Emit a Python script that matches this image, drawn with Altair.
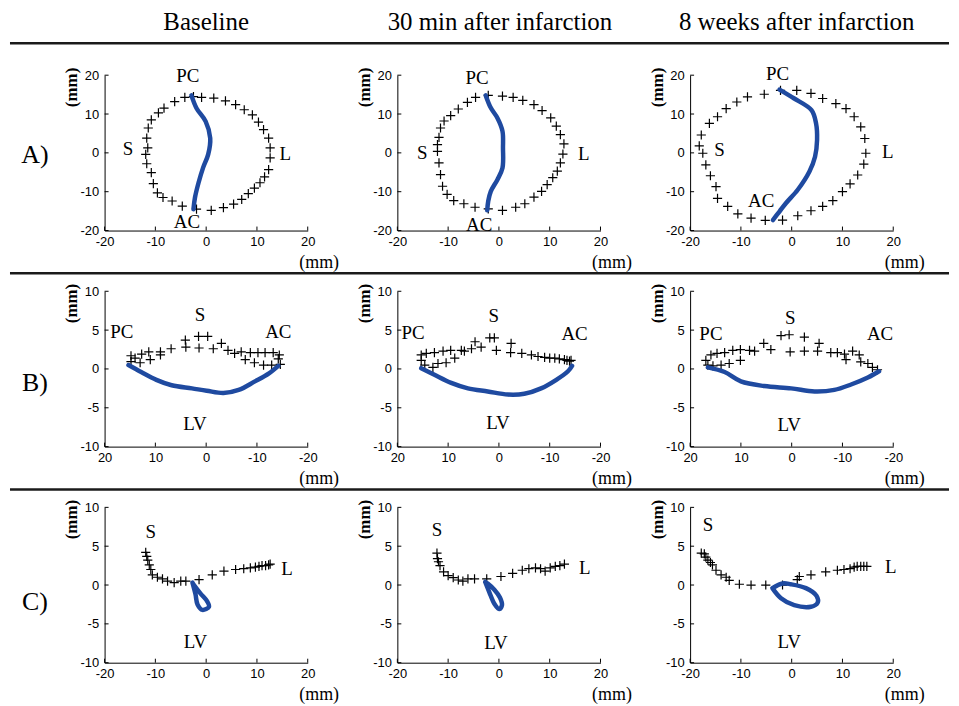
import altair as alt
import pandas as pd

HEADERS = ["Baseline", "30 min after infarction", "8 weeks after infarction"]
ROW_LABELS = ["A)", "B)", "C)"]

# ---------- Row A : annulus seen from the atrium ----------
A1_PX = [-4.2, -2.5, -0.9, 1.5, 3.8, 5.8, 7.5, 9.1, 10.3, 11.3, 12.3, 12.6, 12.6, 12.3, 11.5, 10.6, 9.5, 8.3, 7.0,
         5.4, 3.4, 1.0, -1.9, -4.7, -6.7, -8.5, -9.6, -10.4, -10.8, -11.7, -11.9, -11.5, -11.7, -11.4, -10.8, -9.4, -8.3, -6.2]
A1_PY = [14.3, 14.5, 14.3, 14.1, 13.4, 12.4, 11.1, 9.8, 7.9, 6.0, 3.8, 1.3, -1.3, -4.3, -6.2, -7.7, -9.1, -10.5, -12.0,
         -13.2, -14.1, -14.8, -14.5, -13.7, -12.4, -11.5, -10.3, -7.9, -5.1, -2.8, -0.4, 1.3, 3.8, 6.4, 8.5, 10.3, 11.5, 13.2]
A1_CX = [-2.9, -1.9, -0.1, 0.8, 0.4, -0.6, -1.5, -2.2, -2.5]
A1_CY = [14.8, 11.5, 8.1, 3.8, -0.4, -3.8, -7.7, -11.5, -14.5]
A1_LAB = ["PC", "AC", "S", "L"]
A1_LX = [-3.6, -3.8, -15.4, 15.6]
A1_LY = [19.7, -17.9, 0.9, -0.3]

A2_PX = [-4.6, -2.1, 0.7, 2.8, 4.7, 6.9, 8.5, 10.2, 11.3, 12.1, 12.8, 12.6, 12.1, 11.5, 10.6, 9.5, 8.4, 6.9, 5.1,
         3.3, 0.7, -2.1, -4.7, -6.9, -8.9, -10.2, -11.1, -11.5, -11.8, -12.1, -12.1, -11.8, -11.5, -10.8, -9.5, -8.0, -6.2]
A2_PY = [14.3, 14.8, 14.6, 14.3, 13.5, 12.4, 10.9, 9.0, 6.9, 4.7, 2.3, -0.3, -2.6, -4.7, -6.4, -8.2, -9.9, -11.4, -13.1,
         -14.0, -14.8, -14.4, -14.0, -13.1, -12.3, -10.7, -8.6, -5.6, -2.6, 0.4, 2.1, 4.0, 6.4, 8.2, 9.6, 11.3, 13.0]
A2_CX = [-2.6, -1.6, -0.3, 0.7, 0.8, 0.7, -0.3, -1.6, -2.1, -2.3]
A2_CY = [14.8, 11.6, 9.0, 5.6, 1.3, -3.9, -6.9, -9.9, -12.4, -14.8]
A2_LAB = ["PC", "AC", "S", "L"]
A2_LX = [-4.3, -3.9, -15.1, 16.7]
A2_LY = [19.3, -18.5, 0.0, -0.3]

A3_PX = [-5.4, -2.2, 1.0, 3.8, 6.1, 8.7, 10.7, 12.3, 13.6, 14.4, 14.6, 14.2, 13.0, 11.5, 10.0, 8.1, 6.1, 3.8, 1.2,
         -1.8, -5.2, -8.0, -10.6, -12.6, -14.6, -14.9, -16.0, -16.9, -17.5, -18.2, -17.8, -16.2, -14.6, -12.9, -10.8, -8.7]
A3_PY = [15.1, 16.1, 16.1, 15.3, 14.0, 12.7, 11.4, 9.3, 6.7, 3.7, -0.1, -2.9, -5.7, -8.0, -10.0, -12.3, -13.8, -14.9, -16.2,
         -17.3, -17.4, -16.8, -15.7, -13.8, -11.7, -8.7, -5.9, -3.1, -0.1, 1.8, 4.6, 7.6, 9.3, 11.4, 13.1, 14.4]
A3_CX = [-2.4, 0.5, 3.9, 4.8, 5.0, 4.6, 3.5, 1.2, -1.1, -2.4, -3.7]
A3_CY = [16.3, 14.0, 11.0, 7.6, 3.3, -1.0, -4.8, -9.5, -12.9, -15.1, -17.3]
A3_LAB = ["PC", "AC", "S", "L"]
A3_LX = [-2.8, -6.0, -14.2, 18.9]
A3_LY = [20.4, -12.3, 0.7, 0.3]

# ---------- Row B : side view (PC - AC) ----------
B1_PX = [14.8, 14.8, 14.0, 13.0, 12.7, 11.0, 11.3, 9.0, 9.0, 6.9, 4.1, 4.0, 1.5, -0.3, 1.4, -1.4, -3.0, -4.3, -5.6,
         -6.9, -7.7, -8.7, -9.5, -10.2, -11.3, -11.6, -12.9, -13.2, -14.2, -14.4, -14.6]
B1_PY = [1.7, 0.95, 1.4, 0.8, 1.9, 1.2, 2.2, 1.8, 2.2, 2.6, 3.7, 2.8, 4.2, 4.2, 2.7, 2.6, 3.3, 2.4, 2.0,
         2.2, 1.2, 2.1, 0.8, 2.1, 0.5, 2.1, 0.5, 2.1, 1.3, 1.8, 0.6]
B1_CX = [15.3, 12.8, 9.8, 6.8, 2.8, -0.1, -3.4, -6.4, -9.6, -12.3, -14.2]
B1_CY = [0.5, -0.4, -1.4, -2.1, -2.5, -2.8, -3.1, -2.7, -1.6, -0.6, 0.4]
B1_LAB = ["PC", "S", "AC", "LV"]
B1_LX = [16.6, 1.2, -14.2, 2.2]
B1_LY = [4.7, 6.9, 4.7, -7.1]

B2_PX = [15.3, 15.3, 14.6, 14.3, 13.0, 12.7, 12.0, 11.0, 10.4, 9.5, 8.7, 7.4, 6.8, 5.4, 4.7, 3.5, 1.8, 0.9, 0.5,
         -2.4, -2.3, -4.5, -6.4, -7.7, -9.0, -10.0, -11.0, -11.9, -12.9, -13.4, -13.9, -14.2]
B2_PY = [1.8, 1.1, 0.5, 2.0, 0.2, 2.1, 0.7, 2.3, 0.8, 2.4, 1.4, 2.4, 2.3, 2.6, 3.5, 2.8, 4.0, 4.0, 2.4,
         3.3, 2.1, 2.0, 1.8, 1.6, 1.5, 1.4, 1.4, 1.3, 1.2, 1.1, 1.0, 1.1]
B2_CX = [15.3, 12.7, 9.4, 6.1, 2.2, -1.8, -5.0, -8.3, -11.3, -13.6, -14.4]
B2_CY = [0.1, -0.75, -1.8, -2.5, -2.9, -3.3, -3.2, -2.5, -1.4, -0.3, 0.4]
B2_LAB = ["PC", "S", "AC", "LV"]
B2_LX = [16.9, 1.0, -14.9, 0.2]
B2_LY = [4.6, 6.8, 4.5, -7.0]

B3_PX = [16.9, 16.5, 15.9, 15.5, 14.7, 13.9, 13.2, 12.3, 11.6, 10.1, 10.1, 8.3, 7.3, 5.5, 4.1, 2.1, 0.5, 0.3,
         -2.5, -2.5, -5.1, -5.4, -7.7, -9.0, -10.4, -10.7, -12.0, -13.3, -13.6, -15.0, -15.9, -16.9]
B3_PY = [1.1, 0.5, 1.8, 0.4, 2.0, 0.5, 2.1, 0.7, 2.4, 1.1, 2.5, 2.4, 2.3, 3.3, 2.5, 4.3, 4.4, 2.2,
         4.1, 2.3, 2.3, 3.3, 2.1, 2.1, 1.9, 1.2, 2.3, 1.8, 0.9, 0.7, 0.2, -0.1]
B3_CX = [16.5, 13.2, 10.0, 5.4, 0.1, -4.5, -8.4, -11.7, -15.0, -17.2]
B3_CY = [0.2, -0.4, -1.6, -2.2, -2.5, -2.9, -2.7, -2.0, -1.1, -0.3]
B3_LAB = ["PC", "S", "AC", "LV"]
B3_LX = [15.9, 0.3, -17.4, 0.5]
B3_LY = [4.5, 6.6, 4.5, -7.2]

# ---------- Row C : side view (S - L) ----------
C1_PX = [-11.9, -11.7, -11.5, -11.2, -10.9, -10.6, -9.6, -8.6, -7.6, -6.3, -5.0, -4.0, -1.4, 1.2, 3.5, 5.8,
         7.4, 8.7, 9.7, 10.4, 11.0, 11.7, 12.3, 12.6]
C1_PY = [4.2, 3.7, 3.2, 2.6, 2.0, 1.3, 1.0, 0.8, 0.5, 0.3, 0.5, 0.5, 0.7, 1.3, 1.8, 2.0,
         2.1, 2.2, 2.3, 2.4, 2.5, 2.5, 2.6, 2.7]
C1_CX = [-2.7, -2.1, -1.7, -0.75, 0.55, 0.2, -1.1, -2.4, -2.7]
C1_CY = [0.3, -1.2, -2.5, -3.2, -2.8, -2.1, -1.1, 0.0, 0.3]
C1_LAB = ["S", "L", "LV"]
C1_LX = [-10.9, 15.9, -2.1]
C1_LY = [6.8, 2.0, -7.4]

C2_PX = [-12.2, -12.1, -11.9, -11.6, -10.9, -10.0, -9.0, -8.0, -7.1, -6.1, -4.8, -2.4, 0.4, 2.7, 4.6, 5.9,
         7.2, 8.2, 9.1, 10.1, 11.1, 12.0, 12.9]
C2_PY = [4.1, 3.4, 3.0, 2.5, 1.7, 1.2, 0.95, 0.65, 0.5, 0.8, 0.8, 0.8, 1.1, 1.5, 1.9, 2.1,
         2.2, 2.1, 1.8, 2.2, 2.4, 2.5, 2.7]
C2_CX = [-2.7, -1.9, -0.9, 0.1, 0.6, 0.2, -0.9, -2.2, -2.7]
C2_CY = [0.4, -0.9, -2.4, -3.1, -2.6, -1.6, -0.6, 0.2, 0.4]
C2_LAB = ["S", "L", "LV"]
C2_LX = [-12.2, 16.9, -0.6]
C2_LY = [7.1, 2.2, -7.5]

C3_PX = [-17.8, -17.2, -16.9, -16.5, -16.0, -15.6, -14.9, -13.9, -12.9, -12.3, -10.3, -8.0, -5.1, -1.8, 1.1,
         1.5, 3.8, 6.7, 9.0, 10.3, 11.5, 12.3, 12.9, 13.6, 14.2, 14.8]
C3_PY = [4.1, 4.0, 3.6, 3.2, 2.9, 2.6, 1.9, 1.3, 1.0, 0.6, 0.1, 0.0, 0.0, 0.0, 0.7,
         1.1, 1.3, 1.7, 1.9, 2.0, 2.1, 2.3, 2.4, 2.4, 2.4, 2.4]
C3_CX = [-3.8, -2.1, 0.5, 3.8, 5.1, 4.9, 2.8, -0.2, -1.8, -3.8]
C3_CY = [-0.4, -1.7, -2.6, -2.8, -2.3, -1.4, -0.4, 0.1, 0.2, -0.4]
C3_LAB = ["S", "L", "LV"]
C3_LX = [-16.5, 19.5, -0.5]
C3_LY = [7.7, 2.3, -7.3]

PANELS = [
    [(A1_PX, A1_PY, A1_CX, A1_CY, A1_LAB, A1_LX, A1_LY),
     (A2_PX, A2_PY, A2_CX, A2_CY, A2_LAB, A2_LX, A2_LY),
     (A3_PX, A3_PY, A3_CX, A3_CY, A3_LAB, A3_LX, A3_LY)],
    [(B1_PX, B1_PY, B1_CX, B1_CY, B1_LAB, B1_LX, B1_LY),
     (B2_PX, B2_PY, B2_CX, B2_CY, B2_LAB, B2_LX, B2_LY),
     (B3_PX, B3_PY, B3_CX, B3_CY, B3_LAB, B3_LX, B3_LY)],
    [(C1_PX, C1_PY, C1_CX, C1_CY, C1_LAB, C1_LX, C1_LY),
     (C2_PX, C2_PY, C2_CX, C2_CY, C2_LAB, C2_LX, C2_LY),
     (C3_PX, C3_PY, C3_CX, C3_CY, C3_LAB, C3_LX, C3_LY)],
]

W, H = 204, 156
BLUE = "#1f4aa0"
SERIF = "Liberation Serif"
PLUS = "M-1,0L1,0M0,-1L0,1"
HEADER_X = [102, 103, 107]
ROWLABEL_Y = [80, 92, 95]
RULE_Y = [-32, -18, -18]
LABEL_EXPR = "'' + datum.value"


def panel(row, col, px, py, cx, cy, lab, lx, ly):
    ydom = [-20, 20] if row == 0 else [-10, 10]
    yvals = [-20, -10, 0, 10, 20] if row == 0 else [-10, -5, 0, 5, 10]
    xvals = [-20, -10, 0, 10, 20]
    xs = alt.Scale(domain=[-20, 20], reverse=(row == 1), nice=False, zero=False)
    ys = alt.Scale(domain=ydom, nice=False, zero=False)

    def X():
        return alt.X("x:Q", scale=xs, axis=alt.Axis(values=xvals, title="(mm)", labelExpr=LABEL_EXPR))

    def Y():
        return alt.Y("y:Q", scale=ys, axis=alt.Axis(values=yvals, title="(mm)", labelExpr=LABEL_EXPR))

    xt = alt.Chart(pd.DataFrame({"x": xvals})).mark_rule(color="black", strokeWidth=1).encode(
        x=X(), y=alt.value(H), y2=alt.value(H - 4))
    yt = alt.Chart(pd.DataFrame({"y": yvals})).mark_rule(color="black", strokeWidth=1).encode(
        y=Y(), x=alt.value(0), x2=alt.value(4))
    pts = alt.Chart(pd.DataFrame({"x": px, "y": py})).mark_point(
        shape=PLUS, filled=False, stroke="black", strokeWidth=1.2, size=85, opacity=1).encode(x=X(), y=Y())
    line = alt.Chart(pd.DataFrame({"x": cx, "y": cy, "i": list(range(len(cx)))})).mark_line(
        color=BLUE, strokeWidth=4.5, strokeCap="round", strokeJoin="round",
        interpolate="catmull-rom").encode(
        x=X(), y=Y(), order="i:Q")
    labels = alt.Chart(pd.DataFrame({"x": lx, "y": ly, "t": lab})).mark_text(
        font=SERIF, fontSize=19, color="black", align="center", baseline="middle").encode(
        x=X(), y=Y(), text="t:N")
    layers = [xt, yt, pts, line, labels]

    if row == 0:
        layers.append(alt.Chart(pd.DataFrame({"t": [HEADERS[col]]})).mark_text(
            font=SERIF, fontSize=25, color="black", align="center", baseline="alphabetic").encode(
            text="t:N", x=alt.value(HEADER_X[col]), y=alt.value(-45)))
    if col == 0:
        layers.append(alt.Chart(pd.DataFrame({"t": [ROW_LABELS[row]]})).mark_text(
            font=SERIF, fontSize=26, color="black", align="center", baseline="middle").encode(
            text="t:N", x=alt.value(-70), y=alt.value(ROWLABEL_Y[row])))
        layers.append(alt.Chart(pd.DataFrame({"k": [0]})).mark_rule(
            color="#1a1a1a", strokeWidth=2.5).encode(
            x=alt.value(-95), x2=alt.value(848), y=alt.value(RULE_Y[row])))
        if row == 0:
            layers.append(alt.Chart(pd.DataFrame({"k": [0]})).mark_rule(
                strokeOpacity=0, color="white").encode(
                x=alt.value(0), x2=alt.value(2), y=alt.value(-66)))
    return alt.layer(*layers).properties(width=W, height=H)


panels = [panel(r, c, *PANELS[r][c]) for r in range(3) for c in range(3)]

chart = alt.concat(
    *panels, columns=3, spacing=alt.RowColnumber(row=61, column=90), bounds="flush", padding=0
).configure_view(
    stroke=None
).configure_axis(
    grid=False, ticks=False, domainColor="black", domainWidth=1,
    labelFont="Liberation Sans", labelFontSize=13, labelColor="black",
    labelOverlap=False, labelFlush=False, titleFont=SERIF, titleColor="black"
).configure_axisX(
    labelPadding=5, titleFontSize=18, titleFontWeight="normal",
    titleX=235, titleY=37, titleAlign="right", titleBaseline="alphabetic"
).configure_axisY(
    labelPadding=6, titleFontSize=17, titleFontWeight="bold", titleAngle=270,
    titleX=-33, titleY=-8, titleAlign="right", titleBaseline="middle"
)

chart.save("out.html", embed_options={"renderer": "svg", "actions": False})
